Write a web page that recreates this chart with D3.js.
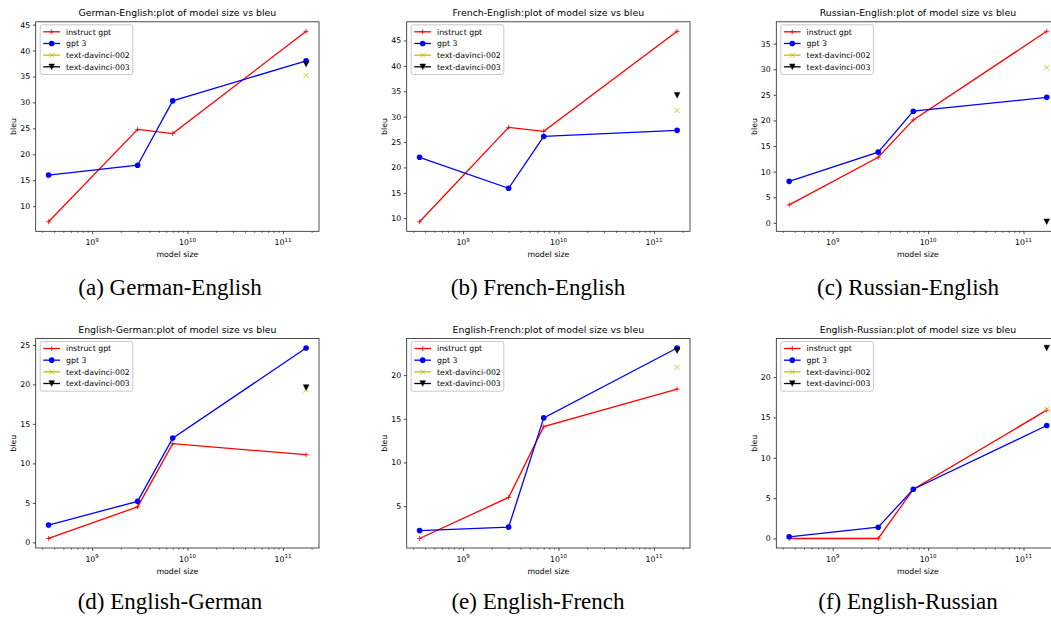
<!DOCTYPE html>
<html><head><meta charset="utf-8">
<script src="https://cdn.jsdelivr.net/npm/d3@7"></script>
<style>body{margin:0;background:#fff} svg{display:block}</style>
</head><body>
<svg id="chart" width="1051" height="622"></svg>
<script>
// ---- data ----
const panelTitles = [
  "German-English:plot of model size vs bleu",
  "French-English:plot of model size vs bleu",
  "Russian-English:plot of model size vs bleu",
  "English-German:plot of model size vs bleu",
  "English-French:plot of model size vs bleu",
  "English-Russian:plot of model size vs bleu"
];
const captions = ["(a) German-English", "(b) French-English", "(c) Russian-English",
                  "(d) English-German", "(e) English-French", "(f) English-Russian"];
const seriesNames = ["instruct gpt", "gpt 3", "text-davinci-002", "text-davinci-003"];
const modelSizes = [3.5e8, 3e9, 7e9, 1.75e11];
const davinciSize = 1.75e11;
const instructGpt = [
  [7.0, 24.8, 24.0, 43.7],
  [9.3, 27.9, 27.1, 46.8],
  [3.5, 12.8, 20.1, 37.4],
  [0.5, 4.5, 12.5, 11.1],
  [1.3, 6.0, 14.1, 18.4],
  [0.0, 0.0, 6.1, 15.9]
];
const gpt3 = [
  [16.0, 17.9, 30.3, 38.0],
  [22.0, 15.9, 26.1, 27.3],
  [8.1, 13.8, 21.8, 24.5],
  [2.2, 5.2, 13.2, 24.6],
  [2.2, 2.6, 15.1, 23.1],
  [0.2, 1.4, 6.1, 14.0]
];
const davinci002 = [35.2, 31.2, 30.3, 19.3, 20.9, 16.0];
const davinci003 = [37.4, 34.2, 0.2, 19.6, 22.8, 23.6];
const xTickExponents = [9, 10, 11];
const yTicks = [
  [10, 15, 20, 25, 30, 35, 40, 45],
  [10, 15, 20, 25, 30, 35, 40, 45],
  [0, 5, 10, 15, 20, 25, 30, 35],
  [0, 5, 10, 15, 20, 25],
  [5, 10, 15, 20],
  [0, 5, 10, 15, 20]
];
const xLabel = "model size";
const yLabel = "bleu";

// ---- layout / style ----
const colX = [35.7, 406.7, 776.3];
const rowY = [21.8, 338.5];
const W = 283.3, H = 209.5;
const captionX = [170, 538, 908];
const captionY = [295, 609];
const colors = ["#ff0000", "#0000ff", "#bfbf00", "#000000"];
const FONT = "DejaVu Sans, sans-serif";
const FS = 7.8;
const LW = 1.3;
const MS = 2.5;

const svg = d3.select("#chart");

function marker(g, type, cx, cy, color) {
  if (type === 0) {
    g.append("path").attr("d", `M${cx - MS},${cy}H${cx + MS}M${cx},${cy - MS}V${cy + MS}`)
      .attr("stroke", color).attr("stroke-width", 0.8).attr("fill", "none");
  } else if (type === 1) {
    g.append("circle").attr("cx", cx).attr("cy", cy).attr("r", 2.8).attr("fill", color);
  } else if (type === 2) {
    g.append("path").attr("d", `M${cx - MS},${cy - MS}L${cx + MS},${cy + MS}M${cx - MS},${cy + MS}L${cx + MS},${cy - MS}`)
      .attr("stroke", color).attr("stroke-width", 0.8).attr("fill", "none");
  } else {
    g.append("path").attr("d", `M${cx},${cy + MS + 0.3}L${cx - MS - 0.3},${cy - MS - 0.3}L${cx + MS + 0.3},${cy - MS - 0.3}Z`)
      .attr("fill", color).attr("stroke", color).attr("stroke-width", 0.5);
  }
}

for (let i = 0; i < 6; i++) {
  const col = i % 3, row = Math.floor(i / 3);
  const x0 = colX[col], y0 = rowY[row];
  const g = svg.append("g");

  // x scale (log) with 5% padding in log space
  const lx = d3.extent(modelSizes.concat([davinciSize]), v => Math.log10(v));
  const px = 0.05 * (lx[1] - lx[0]);
  const x = d3.scaleLog().domain([10 ** (lx[0] - px), 10 ** (lx[1] + px)]).range([x0, x0 + W]);

  const allY = instructGpt[i].concat(gpt3[i], [davinci002[i], davinci003[i]]);
  const ey = d3.extent(allY);
  const py = 0.05 * (ey[1] - ey[0]);
  const y = d3.scaleLinear().domain([ey[0] - py, ey[1] + py]).range([y0 + H, y0]);

  // minor x ticks
  const minor = [];
  for (let e = 8; e <= 11; e++) for (let m = 2; m <= 9; m++) {
    const v = m * 10 ** e;
    if (v >= x.domain()[0] && v <= x.domain()[1]) minor.push(v);
  }
  const gxm = g.append("g").attr("transform", `translate(0,${y0 + H})`)
    .call(d3.axisBottom(x).tickValues(minor).tickSize(1.6).tickFormat(""));
  gxm.select(".domain").remove();
  gxm.selectAll("line").attr("stroke", "#000").attr("stroke-width", 0.6);

  const gx = g.append("g").attr("transform", `translate(0,${y0 + H})`)
    .call(d3.axisBottom(x).tickValues(xTickExponents.map(e => 10 ** e)).tickSize(2.8).tickFormat(""));
  gx.select(".domain").remove();
  gx.selectAll("line").attr("stroke", "#000").attr("stroke-width", 0.7);
  xTickExponents.forEach(e => {
    const t = g.append("text").attr("x", x(10 ** e)).attr("y", y0 + H + 13.5)
      .attr("text-anchor", "middle").attr("font-family", FONT).attr("font-size", FS).attr("fill", "#000");
    t.append("tspan").text("10");
    t.append("tspan").attr("dy", -3.2).attr("font-size", FS * 0.7).text(e);
  });

  const gy = g.append("g").attr("transform", `translate(${x0},0)`)
    .call(d3.axisLeft(y).tickValues(yTicks[i]).tickSize(2.8).tickPadding(2.8).tickFormat(d3.format("d")));
  gy.select(".domain").remove();
  gy.selectAll("line").attr("stroke", "#000").attr("stroke-width", 0.7);
  gy.selectAll("text").attr("font-family", FONT).attr("font-size", FS).attr("fill", "#000");

  // frame
  g.append("rect").attr("x", x0).attr("y", y0).attr("width", W).attr("height", H)
    .attr("fill", "none").attr("stroke", "#222").attr("stroke-width", 0.8);

  // title + labels
  g.append("text").attr("x", x0 + W / 2).attr("y", y0 - 5.5).attr("text-anchor", "middle")
    .attr("font-family", FONT).attr("font-size", 9.4).attr("fill", "#000").text(panelTitles[i]);
  g.append("text").attr("x", x0 + W / 2).attr("y", y0 + H + 26).attr("text-anchor", "middle")
    .attr("font-family", FONT).attr("font-size", FS).attr("fill", "#000").text(xLabel);
  g.append("text").attr("transform", `translate(${x0 - 19.6},${y0 + H / 2}) rotate(-90)`)
    .attr("text-anchor", "middle").attr("font-family", FONT).attr("font-size", FS).attr("fill", "#000").text(yLabel);

  // series
  const line = d3.line().x(d => x(d[0])).y(d => y(d[1]));
  [instructGpt[i], gpt3[i]].forEach((vals, s) => {
    const pts = modelSizes.map((m, k) => [m, vals[k]]);
    g.append("path").datum(pts).attr("d", line).attr("fill", "none")
      .attr("stroke", colors[s]).attr("stroke-width", LW);
    pts.forEach(p => marker(g, s, x(p[0]), y(p[1]), colors[s]));
  });
  marker(g, 2, x(davinciSize), y(davinci002[i]), colors[2]);
  marker(g, 3, x(davinciSize), y(davinci003[i]), colors[3]);

  // legend
  const lg = g.append("g");
  lg.append("rect").attr("x", x0 + 4.5).attr("y", y0 + 3).attr("width", 92.6).attr("height", 49.7)
    .attr("rx", 2).attr("fill", "#fff").attr("fill-opacity", 0.8).attr("stroke", "#bbb").attr("stroke-width", 0.8);
  seriesNames.forEach((name, s) => {
    const cy = y0 + 10 + s * 11.67;
    lg.append("line").attr("x1", x0 + 7.6).attr("x2", x0 + 24.3).attr("y1", cy).attr("y2", cy)
      .attr("stroke", colors[s]).attr("stroke-width", LW);
    marker(lg, s, x0 + 16, cy, colors[s]);
    lg.append("text").attr("x", x0 + 30.3).attr("y", cy + 2.8).attr("font-family", FONT)
      .attr("font-size", FS).attr("fill", "#000").text(name);
  });

  // caption
  svg.append("text").attr("x", captionX[col]).attr("y", captionY[row]).attr("text-anchor", "middle")
    .attr("font-family", "Liberation Serif, Times New Roman, serif").attr("font-size", 23)
    .attr("fill", "#000").text(captions[i]);
}
</script>
</body></html>
